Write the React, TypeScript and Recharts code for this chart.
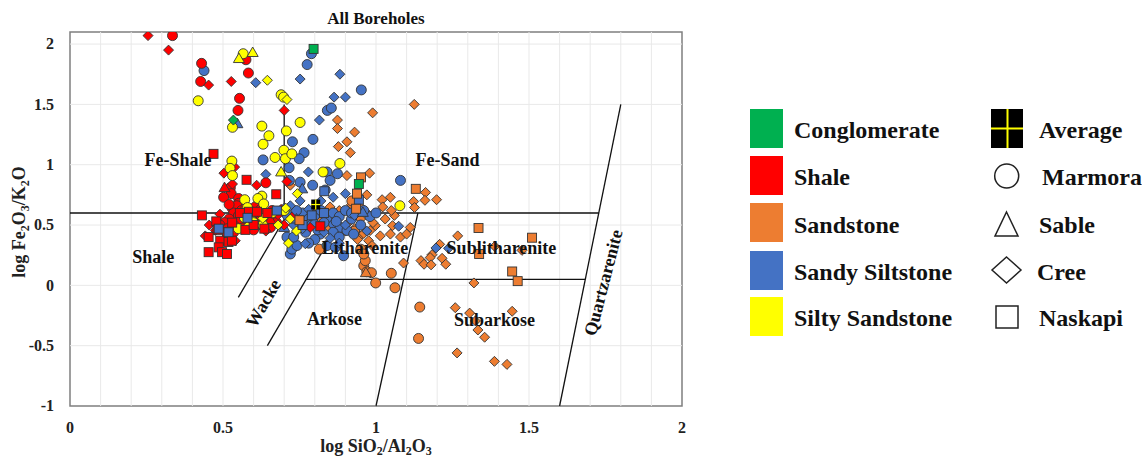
import React from 'react';
import { ScatterChart, Scatter, XAxis, YAxis, ReferenceLine, ReferenceArea, Legend } from 'recharts';

const FONT = '"Liberation Serif", "Times New Roman", Times, serif';

// ---------- axis ticks / grid ----------
const xTicks = [0, 0.5, 1, 1.5, 2];
const yTicks = [-1, -0.5, 0, 0.5, 1, 1.5, 2];
const xGridValues = [0.1, 0.2, 0.3, 0.4, 0.5, 0.6, 0.7, 0.8, 0.9, 1, 1.1, 1.2, 1.3, 1.4, 1.5, 1.6, 1.7, 1.8, 1.9];
const yGridValues = [-0.5, 0, 0.5, 1, 1.5, 2];

// ---------- classification boundaries [x1, y1, x2, y2] ----------
const boundaryLines: number[][] = [
  [0, 0.6, 1.728, 0.6],
  [1.6, -1, 1.8, 1.5],
  [0.7, 0.6, 0.7, 1.5],
  [0.55, -0.1, 0.712, 0.6],
  [0.645, -0.5, 0.85, 0.39],
  [0.77, 0.05, 1.684, 0.05],
  [1.0, -1, 1.137, 0.6],
];

// ---------- zone labels ----------
const zoneNames = ['Fe-Shale', 'Fe-Sand', 'Shale', 'Wacke', 'Arkose', 'Litharenite', 'Sublitharenite', 'Subarkose', 'Quartzarenite'];
const zoneX = [0.353, 1.234, 0.272, 0.632, 0.864, 0.964, 1.41, 1.387, 1.743];
const zoneY = [1.035, 1.039, 0.238, -0.149, -0.282, 0.307, 0.312, -0.287, 0.022];
const zoneAngle = [0, 0, 0, -60, 0, 0, 0, 0, -75.5];

// ---------- data: [log SiO2/Al2O3, log Fe2O3/K2O] ----------
const shaleMarmora = [[0.335,2.07],[0.43,1.84],[0.427,1.69],[0.575,1.87],[0.583,1.76],[0.554,1.55],[0.549,1.45],[0.64,0.85],[0.524,0.81],[0.527,0.76],[0.502,0.73],[0.551,0.72],[0.551,0.68],[0.617,0.71],[0.53,0.64],[0.545,0.66],[0.56,0.62],[0.575,0.645],[0.59,0.63],[0.605,0.65],[0.62,0.6],[0.535,0.6],[0.55,0.575],[0.57,0.59],[0.595,0.57],[0.61,0.55],[0.64,0.58],[0.66,0.56],[0.52,0.55],[0.505,0.52],[0.55,0.53],[0.58,0.51],[0.63,0.52],[0.675,0.52],[0.655,0.48],[0.49,0.5],[0.515,0.47],[0.6,0.46],[0.535,0.44],[0.565,0.475],[0.625,0.635],[0.66,0.62],[0.52,0.67],[0.585,0.6]];
const shaleCree = [[0.255,2.07],[0.322,1.95],[0.453,1.66],[0.527,1.69],[0.70,1.45],[0.503,0.93],[0.538,0.98],[0.531,0.84],[0.61,0.83],[0.709,0.86],[0.442,0.41],[0.54,0.37],[0.785,0.48],[0.455,0.5],[0.475,0.455],[0.6,0.58],[0.7,0.5],[0.725,0.565],[0.68,0.585],[0.49,0.59],[0.545,0.49],[0.64,0.45],[0.69,0.63],[0.62,0.5]];
const shaleNaskapi = [[0.469,1.09],[0.577,0.875],[0.674,0.755],[0.431,0.58],[0.478,0.53],[0.482,0.46],[0.513,0.44],[0.573,0.46],[0.584,0.61],[0.611,0.61],[0.453,0.4],[0.453,0.275],[0.491,0.37],[0.486,0.315],[0.497,0.275],[0.513,0.26],[0.518,0.36],[0.529,0.37],[0.818,0.49],[0.555,0.6],[0.6,0.5],[0.635,0.47],[0.645,0.6],[0.53,0.52]];
const shaleSable = [[0.505,0.81],[0.655,0.545]];

const siltySandstoneMarmora = [[0.566,1.92],[0.419,1.53],[0.531,1.31],[0.69,1.58],[0.698,1.56],[0.627,1.32],[0.65,1.24],[0.631,1.17],[0.707,1.28],[0.752,1.35],[0.699,1.12],[0.67,1.06],[0.704,1.05],[0.882,1.01],[0.529,1.03],[0.523,0.97],[0.531,0.91],[0.571,0.71],[0.627,0.74],[0.725,1.09],[0.614,0.72],[0.633,0.675],[0.827,0.94],[1.078,0.66],[0.59,0.55],[0.63,0.5],[0.66,0.6],[0.57,0.56],[0.6,0.52],[0.55,0.47],[0.7,0.62],[0.58,0.645]];
const siltySandstoneSable = [[0.552,1.88],[0.597,1.93],[0.69,0.94]];
const siltySandstoneCree = [[0.645,1.70],[0.709,1.54],[0.743,0.76],[0.714,0.35],[0.72,0.55],[0.74,0.45],[0.68,0.5],[0.58,0.49],[0.63,0.555],[0.705,0.64]];

const sandySiltstoneMarmora = [[0.438,1.78],[0.775,1.83],[0.789,1.92],[0.952,1.62],[0.841,1.45],[0.854,1.47],[0.727,1.19],[0.794,1.21],[0.765,1.10],[0.749,1.05],[0.631,1.04],[0.716,0.975],[0.717,0.87],[0.752,0.855],[0.793,0.83],[0.834,0.79],[0.84,0.94],[0.874,0.925],[0.85,0.87],[1.08,0.87],[0.72,0.26],[0.725,0.30],[0.742,0.33],[0.709,0.40],[0.731,0.40],[0.861,0.51],[0.883,0.48],[0.905,0.455],[0.927,0.425],[0.894,0.245],[0.818,0.425],[0.84,0.33],[0.867,0.315],[0.76,0.6],[0.78,0.55],[0.8,0.58],[0.82,0.62],[0.84,0.56],[0.86,0.6],[0.88,0.57],[0.9,0.62],[0.79,0.5],[0.81,0.46],[0.75,0.52],[0.77,0.44],[0.83,0.52],[0.87,0.53],[0.92,0.55],[0.95,0.5],[0.98,0.57],[0.74,0.62],[0.71,0.58],[0.68,0.61],[0.665,0.53],[0.645,0.5],[0.92,0.6],[0.96,0.62],[1.0,0.6],[0.86,0.44],[0.8,0.38],[0.78,0.35],[0.88,0.4]];
const sandySiltstoneCree = [[0.607,1.68],[0.752,1.71],[0.882,1.75],[0.863,1.56],[0.90,1.56],[0.815,1.37],[0.64,0.92],[0.752,0.70],[0.779,0.94],[0.90,0.76],[1.074,0.49],[1.196,0.31],[1.237,0.307],[0.769,0.345],[0.7,0.64],[0.73,0.5],[0.76,0.47],[0.8,0.52],[0.83,0.44],[0.85,0.39],[0.88,0.35],[0.9,0.5],[0.93,0.58],[0.97,0.45],[0.72,0.66],[0.78,0.63],[0.82,0.7],[0.86,0.73]];
const sandySiltstoneNaskapi = [[0.944,0.71],[0.831,0.78],[0.79,0.58],[0.486,0.47],[0.518,0.44],[0.676,0.62],[0.76,0.5],[0.83,0.6],[0.58,0.56]];
const sandySiltstoneSable = [[0.547,1.34],[0.759,0.80],[0.957,0.605],[0.74,0.55],[0.7,0.48]];

const sandstoneCree = [[1.125,1.50],[0.989,1.43],[0.874,1.37],[0.874,1.30],[0.93,1.27],[0.877,1.15],[0.905,1.19],[0.916,1.10],[0.979,0.93],[0.97,0.75],[0.905,0.91],[1.162,0.77],[1.16,0.705],[1.198,0.71],[1.123,0.695],[1.126,0.645],[1.047,0.73],[1.02,0.71],[1.022,0.65],[1.054,0.495],[1.112,0.48],[1.267,0.41],[1.208,0.34],[1.388,0.323],[1.477,0.29],[1.183,0.254],[1.177,0.23],[1.147,0.205],[1.157,0.175],[1.18,0.17],[1.216,0.224],[1.228,0.175],[1.09,0.185],[1.32,0.02],[1.259,-0.185],[1.306,-0.23],[1.325,-0.295],[1.333,-0.37],[1.355,-0.43],[1.445,-0.215],[1.265,-0.56],[1.387,-0.63],[1.428,-0.655],[1.014,0.41],[1.047,0.425],[1.08,0.40],[1.10,0.425],[0.981,0.455],[0.949,0.41],[0.976,0.37],[0.987,0.33],[0.998,0.495],[0.72,0.83],[0.82,0.55],[0.86,0.5],[0.88,0.62],[0.91,0.52],[0.93,0.47],[0.95,0.55],[0.96,0.43],[0.99,0.52],[1.03,0.55],[1.06,0.58],[0.85,0.65],[0.92,0.67],[0.95,0.65],[0.9,0.45],[0.94,0.38],[0.84,0.48],[0.8,0.62],[1.05,0.62],[0.97,0.6]];
const sandstoneMarmora = [[1.05,0.10],[1.062,-0.02],[1.143,-0.18],[1.139,-0.44],[0.999,0.02],[0.96,0.163],[0.97,0.113],[0.985,0.105],[0.965,0.205],[0.815,0.30],[0.921,0.70],[0.95,0.3],[0.96,0.26],[0.93,0.45]];
const sandstoneSable = [[0.967,0.105]];
const sandstoneNaskapi = [[0.951,0.895],[0.938,0.76],[1.13,0.80],[1.335,0.475],[1.51,0.395],[1.337,0.26],[1.445,0.115],[1.463,0.035],[0.935,0.635],[0.75,0.54]];

const conglomerateNaskapi = [[0.796,1.96],[0.944,0.84]];
const conglomerateCree = [[0.534,1.37]];
const averages = [[0.803,0.67]];

// ---------- legend ----------
const lithologyNames = ['Conglomerate', 'Shale', 'Sandstone', 'Sandy Siltstone', 'Silty Sandstone'];
const boreholeNames = ['Average', 'Marmora', 'Sable', 'Cree', 'Naskapi'];

const COLORS: Record<string, string> = {
  Conglomerate: '#00B050',
  Shale: '#FF0000',
  Sandstone: '#ED7D31',
  'Sandy Siltstone': '#4472C4',
  'Silty Sandstone': '#FFFF00',
};

const series = [
  { name: 'Sandstone Cree', data: sandstoneCree, kind: 'diamond', fill: COLORS.Sandstone },
  { name: 'Sandstone Marmora', data: sandstoneMarmora, kind: 'circle', fill: COLORS.Sandstone },
  { name: 'Sandstone Sable', data: sandstoneSable, kind: 'triangle', fill: COLORS.Sandstone },
  { name: 'Sandy Siltstone Marmora', data: sandySiltstoneMarmora, kind: 'circle', fill: COLORS['Sandy Siltstone'] },
  { name: 'Sandy Siltstone Cree', data: sandySiltstoneCree, kind: 'diamond', fill: COLORS['Sandy Siltstone'] },
  { name: 'Sandy Siltstone Sable', data: sandySiltstoneSable, kind: 'triangle', fill: COLORS['Sandy Siltstone'] },
  { name: 'Shale Marmora', data: shaleMarmora, kind: 'circle', fill: COLORS.Shale },
  { name: 'Shale Cree', data: shaleCree, kind: 'diamond', fill: COLORS.Shale },
  { name: 'Shale Sable', data: shaleSable, kind: 'triangle', fill: COLORS.Shale },
  { name: 'Silty Sandstone Marmora', data: siltySandstoneMarmora, kind: 'circle', fill: COLORS['Silty Sandstone'] },
  { name: 'Silty Sandstone Cree', data: siltySandstoneCree, kind: 'diamond', fill: COLORS['Silty Sandstone'] },
  { name: 'Silty Sandstone Sable', data: siltySandstoneSable, kind: 'triangle', fill: COLORS['Silty Sandstone'] },
  { name: 'Shale Naskapi', data: shaleNaskapi, kind: 'square', fill: COLORS.Shale },
  { name: 'Sandy Siltstone Naskapi', data: sandySiltstoneNaskapi, kind: 'square', fill: COLORS['Sandy Siltstone'] },
  { name: 'Sandstone Naskapi', data: sandstoneNaskapi, kind: 'square', fill: COLORS.Sandstone },
  { name: 'Conglomerate Naskapi', data: conglomerateNaskapi, kind: 'square', fill: COLORS.Conglomerate },
  { name: 'Conglomerate Cree', data: conglomerateCree, kind: 'diamond', fill: COLORS.Conglomerate },
  { name: 'Average', data: averages, kind: 'average', fill: '#000' },
];

const toPoints = (arr: number[][]) => arr.map(([x, y]) => ({ x, y }));

const Marker = (props: any) => {
  const { cx, cy, kind, fill } = props;
  if (cx == null || cy == null || isNaN(cx) || isNaN(cy)) return null;
  const st = { fill, stroke: '#333', strokeWidth: 0.9 };
  switch (kind) {
    case 'circle':
      return <circle cx={cx} cy={cy} r={5} {...st} />;
    case 'square':
      return <rect x={cx - 4.5} y={cy - 4.5} width={9} height={9} {...st} />;
    case 'diamond':
      return <polygon points={`${cx},${cy - 5} ${cx + 5},${cy} ${cx},${cy + 5} ${cx - 5},${cy}`} {...st} />;
    case 'triangle':
      return <polygon points={`${cx},${cy - 5.5} ${cx + 5.5},${cy + 4} ${cx - 5.5},${cy + 4}`} {...st} />;
    case 'average':
      return (
        <g>
          <rect x={cx - 4.5} y={cy - 5} width={9} height={10} fill="#000" />
          <line x1={cx} y1={cy - 5} x2={cx} y2={cy + 5} stroke="#FFFF00" strokeWidth={1.2} />
          <line x1={cx - 4.5} y1={cy} x2={cx + 4.5} y2={cy} stroke="#FFFF00" strokeWidth={1.2} />
        </g>
      );
    default:
      return null;
  }
};

const ZoneLabel = (props: any) => {
  const { cx, cy, payload } = props;
  if (cx == null || cy == null) return null;
  return (
    <text
      x={cx}
      y={cy}
      dy="0.33em"
      textAnchor="middle"
      fontFamily={FONT}
      fontWeight="bold"
      fontSize={18}
      fill="#111"
      transform={payload.angle ? `rotate(${payload.angle}, ${cx}, ${cy})` : undefined}
    >
      {payload.label}
    </text>
  );
};

const XTick = (props: any) => {
  const { x, y, payload } = props;
  return (
    <text x={x} y={y + 27} textAnchor="middle" fontFamily={FONT} fontWeight="bold" fontSize={16} fill="#222">
      {payload.value}
    </text>
  );
};

const YTick = (props: any) => {
  const { x, y, payload } = props;
  return (
    <text x={x - 16} y={y + 5.4} textAnchor="end" fontFamily={FONT} fontWeight="bold" fontSize={16} fill="#222">
      {payload.value}
    </text>
  );
};

const XTitle = () => (
  <text x={376} y={452} textAnchor="middle" fontFamily={FONT} fontWeight="bold" fontSize={18} fill="#222">
    log SiO<tspan fontSize={12} dy={3}>2</tspan>
    <tspan dy={-3}>/Al</tspan>
    <tspan fontSize={12} dy={3}>2</tspan>
    <tspan dy={-3}>O</tspan>
    <tspan fontSize={12} dy={3}>3</tspan>
  </text>
);

const YTitle = () => (
  <text
    x={25}
    y={222}
    textAnchor="middle"
    fontFamily={FONT}
    fontWeight="bold"
    fontSize={18}
    fill="#222"
    transform="rotate(-90, 25, 222)"
  >
    log Fe<tspan fontSize={12} dy={4}>2</tspan>
    <tspan dy={-4}>O</tspan>
    <tspan fontSize={12} dy={4}>3</tspan>
    <tspan dy={-4}>/K</tspan>
    <tspan fontSize={12} dy={4}>2</tspan>
    <tspan dy={-4}>O</tspan>
  </text>
);

const LegendBox = () => {
  const swatchTop = [14, 61, 108, 156, 202];
  const baseline = [43, 90, 138, 185, 231];
  const rightTextX = [299, 302, 299, 297, 299];
  const txt = { fontFamily: FONT, fontWeight: 'bold' as const, fontSize: 24, fill: '#111' };
  return (
    <svg width={402} height={250} style={{ display: 'block', overflow: 'visible' }}>
      {lithologyNames.map((n, i) => (
        <g key={n}>
          <rect x={10} y={swatchTop[i]} width={33} height={39} fill={COLORS[n]} />
          <text x={54} y={baseline[i]} {...txt}>{n}</text>
        </g>
      ))}
      <rect x={251} y={14} width={32} height={39} fill="#000" />
      <line x1={267.5} y1={14} x2={267.5} y2={53} stroke="#FFFF00" strokeWidth={2} />
      <line x1={251} y1={33.5} x2={283} y2={33.5} stroke="#FFFF00" strokeWidth={2} />
      <circle cx={266.7} cy={81} r={12} fill="#fff" stroke="#222" strokeWidth={1.5} />
      <polygon points="266.5,117 278,141 255,141" fill="#fff" stroke="#222" strokeWidth={1.5} />
      <polygon points="266.5,162 281,175 266.5,188 252,175" fill="#fff" stroke="#222" strokeWidth={1.5} />
      <rect x={256} y={211} width={22} height={22} fill="#fff" stroke="#222" strokeWidth={1.5} />
      {boreholeNames.map((n, i) => (
        <text key={n} x={rightTextX[i]} y={baseline[i]} {...txt}>{n}</text>
      ))}
    </svg>
  );
};

export default function App() {
  const zoneData = zoneNames.map((label, i) => ({ x: zoneX[i], y: zoneY[i], label, angle: zoneAngle[i] }));
  return (
    <div style={{ position: 'relative', width: 1142, height: 459 }}>
      <style>{'body{margin:0;overflow:hidden} .recharts-surface{overflow:visible}'}</style>
      <div
        style={{
          position: 'absolute',
          left: 276,
          top: 9,
          width: 200,
          textAlign: 'center',
          fontFamily: FONT,
          fontWeight: 'bold',
          fontSize: 17,
          lineHeight: '20px',
          color: '#111',
          zIndex: 2,
        }}
      >
        All Boreholes
      </div>
      <ScatterChart width={1142} height={459} margin={{ top: 32, right: 460, bottom: 0, left: 0 }}>
        <XAxis
          type="number"
          dataKey="x"
          domain={[0, 2]}
          ticks={xTicks}
          axisLine={false}
          tickLine={false}
          tickSize={0}
          tickMargin={0}
          tick={<XTick />}
          height={53}
          allowDataOverflow
          label={{ content: () => <XTitle /> }}
        />
        <YAxis
          type="number"
          dataKey="y"
          domain={[-1, 2.1]}
          ticks={yTicks}
          axisLine={false}
          tickLine={false}
          tickSize={0}
          tickMargin={0}
          tick={<YTick />}
          width={70}
          allowDataOverflow
          label={{ content: () => <YTitle /> }}
        />
        {xGridValues.map((v) => (
          <ReferenceLine key={'gx' + v} x={v} stroke="#e9e9e9" strokeWidth={1} />
        ))}
        {yGridValues.map((v) => (
          <ReferenceLine key={'gy' + v} y={v} stroke="#e9e9e9" strokeWidth={1} />
        ))}
        <ReferenceArea x1={0} x2={2} y1={-1} y2={2.1} fill="none" fillOpacity={0} stroke="#7f7f7f" strokeWidth={1.5} strokeOpacity={1} />
        {boundaryLines.map((l, i) => (
          <ReferenceLine
            key={'b' + i}
            segment={[{ x: l[0], y: l[1] }, { x: l[2], y: l[3] }]}
            stroke="#111"
            strokeWidth={i === 0 ? 1.6 : 1.3}
          />
        ))}
        {series.map((s) => (
          <Scatter
            key={s.name}
            name={s.name}
            data={toPoints(s.data)}
            isAnimationActive={false}
            shape={(p: any) => <Marker {...p} kind={s.kind} fill={s.fill} />}
          />
        ))}
        <Scatter
          name="zones"
          data={zoneData}
          isAnimationActive={false}
          legendType="none"
          shape={(p: any) => <ZoneLabel {...p} />}
        />
        <Legend
          layout="horizontal"
          verticalAlign="middle"
          align="center"
          wrapperStyle={{ left: 740, top: 95, width: 402, height: 250 }}
          content={() => <LegendBox />}
        />
      </ScatterChart>
    </div>
  );
}
